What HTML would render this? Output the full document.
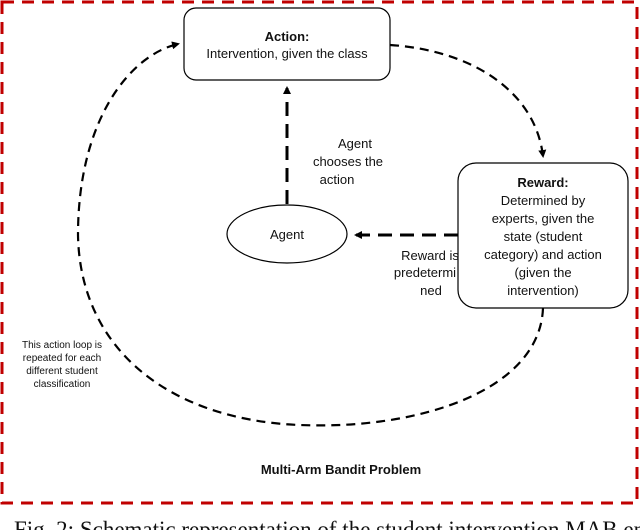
<!DOCTYPE html><html><head><style>body{margin:0;background:#fff}svg{display:block}text{font-family:"Liberation Sans",sans-serif;fill:#111}</style></head><body>
<svg width="640" height="530" viewBox="0 0 640 530">
<defs><marker id="a" markerWidth="8" markerHeight="8" refX="6" refY="4" orient="auto" markerUnits="userSpaceOnUse"><path d="M0,0L8,4L0,8z" fill="#000"/></marker></defs>
<rect x="2" y="2" width="635" height="501" fill="none" stroke="#c00000" stroke-width="3" stroke-dasharray="12,8"/>
<rect x="184" y="8" width="206" height="72" rx="12" fill="#fff" stroke="#000" stroke-width="1.2"/>
<text x="287" y="41" text-anchor="middle" font-size="13" font-weight="bold">Action:</text>
<text x="287" y="58" text-anchor="middle" font-size="13">Intervention, given the class</text>
<rect x="458" y="163" width="170" height="145" rx="18" fill="#fff" stroke="#000" stroke-width="1.2"/>
<g font-size="13" text-anchor="middle"><text x="543" y="187" font-weight="bold">Reward:</text><text x="543" y="205">Determined by</text><text x="543" y="223">experts, given the</text><text x="543" y="241">state (student</text><text x="543" y="259">category) and action</text><text x="543" y="277">(given the</text><text x="543" y="295">intervention)</text></g>
<ellipse cx="287" cy="234" rx="60" ry="29" fill="#fff" stroke="#000" stroke-width="1.2"/>
<text x="287" y="239" text-anchor="middle" font-size="13">Agent</text>
<g fill="none" stroke="#000" stroke-width="3" stroke-dasharray="14,8"><path d="M287,204V88" marker-end="url(#a)"/><path d="M458,235H356" marker-end="url(#a)"/></g>
<g fill="none" stroke="#000" stroke-width="2.2" stroke-dasharray="9,6"><path d="M390,45C470,50 535,90 543,156" marker-end="url(#a)"/><path d="M543,308C540,390 420,430 300,425C170,420 80,350 78,235C78,120 130,55 178,44" marker-end="url(#a)"/></g>
<g font-size="13" text-anchor="middle"><text x="355" y="148">Agent</text><text x="348" y="166">chooses the</text><text x="337" y="184">action</text><text x="430" y="260">Reward is</text><text x="425" y="277">predetermi</text><text x="431" y="295">ned</text></g>
<g font-size="10" text-anchor="middle"><text x="62" y="348">This action loop is</text><text x="62" y="361">repeated for each</text><text x="62" y="374">different student</text><text x="62" y="387">classification</text></g>
<text x="341" y="474" text-anchor="middle" font-size="13" font-weight="bold">Multi-Arm Bandit Problem</text>
<text x="14" y="537" font-size="23" style="font-family:'Liberation Serif',serif">Fig. 2: Schematic representation of the student intervention MAB environment</text>
</svg></body></html>
